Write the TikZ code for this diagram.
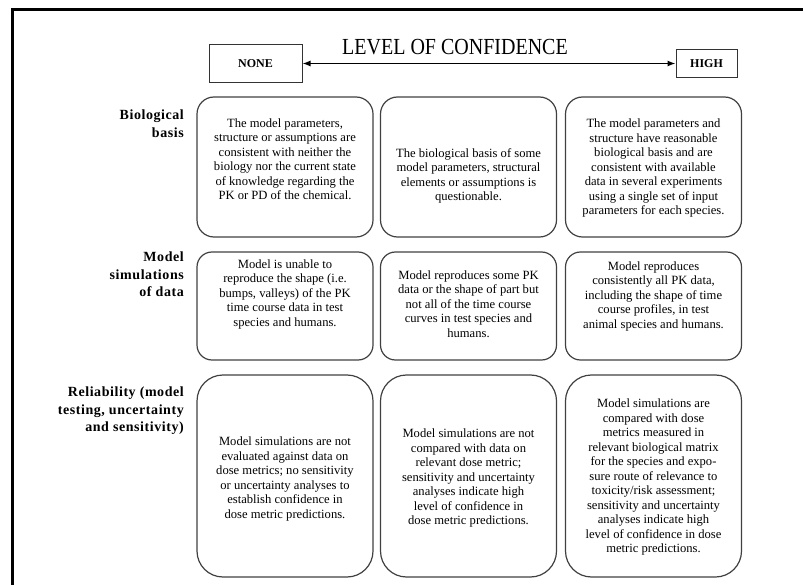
\documentclass[tikz,border=0pt]{standalone}
\usepackage{fontspec}
\setmainfont{Liberation Serif}
\newfontfamily\rowfont[LetterSpace=4]{Liberation Serif}
\usetikzlibrary{arrows.meta}

\begin{document}
\begin{tikzpicture}[x=1pt,y=-1pt]
  \tikzset{cell/.style = {
  shape = rectangle,
  draw = black!75,
  line width = 1.2pt,
  minimum width = 176pt,
  inner sep = 0pt}}
  \tikzset{celltext/.style = {
  align = center,
  inner sep = 0pt,
  font = \fontsize{12.6}{14.5}\selectfont}}
  \tikzset{rowlabel/.style = {
  anchor = north east,
  align = right,
  inner sep = 0pt,
  font = \rowfont\bfseries\fontsize{14}{17.5}\selectfont}}
  \tikzset{endbox/.style = {
  draw = black!80,
  line width = 1pt,
  inner sep = 0pt,
  font = \bfseries\fontsize{12}{14}\selectfont}}
  \useasboundingbox (0,0) rectangle (803,585);
  \draw[line width=3pt] (12,585) -- (12,9.5) -- (803,9.5);
  % scale at the top
  \node (title) at (455,47) {\fontsize{20}{24}\selectfont\scalebox{1}[1.15]{LEVEL OF CONFIDENCE}};
  \node[endbox, minimum width=93pt, minimum height=38pt] (none) at (255.5,63.5) {NONE};
  \node[endbox, minimum width=61pt, minimum height=28pt] (high) at (706.5,63.5) {HIGH};
  \draw[line width=1.2pt, {Latex[length=8pt,width=6pt]}-{Latex[length=8pt,width=6pt]}] (none) -- (high);
  % row labels
  \node[rowlabel] (lbio) at (184,110) {Biological\\basis};
  \node[rowlabel] (lsim) at (184,252) {Model\\simulations\\of data};
  \node[rowlabel] (lrel) at (184,387) {Reliability (model\\testing, uncertainty\\and sensitivity)};
  % biological basis
  \node[cell, minimum height=140pt, rounded corners=17pt] (bio1) at (285,167) {};
  \node[cell, minimum height=140pt, rounded corners=17pt] (bio2) at (468.5,167) {};
  \node[cell, minimum height=140pt, rounded corners=17pt] (bio3) at (653.5,167) {};
  \node[celltext] (tbio1) at (285,159) {The model parameters,\\structure or assumptions are\\consistent with neither the\\biology nor the current state\\of knowledge regarding the\\PK or PD of the chemical.};
  \node[celltext] (tbio2) at (468.5,176) {The biological basis of some\\model parameters, structural\\elements or assumptions is\\questionable.};
  \node[celltext] (tbio3) at (653.5,168) {The model parameters and\\structure have reasonable\\biological basis and are\\consistent with available\\data in several experiments\\using a single set of input\\parameters for each species.};
  % model simulations of data
  \node[cell, minimum height=108pt, rounded corners=15pt] (sim1) at (285,306) {};
  \node[cell, minimum height=108pt, rounded corners=15pt] (sim2) at (468.5,306) {};
  \node[cell, minimum height=108pt, rounded corners=15pt] (sim3) at (653.5,306) {};
  \node[celltext] (tsim1) at (285,294) {Model is unable to\\reproduce the shape (i.e.\\bumps, valleys) of the PK\\time course data in test\\species and humans.};
  \node[celltext] (tsim2) at (468.5,304) {Model reproduces some PK\\data or the shape of part but\\not all of the time course\\curves in test species and\\humans.};
  \node[celltext] (tsim3) at (653.5,296) {Model reproduces\\consistently all PK data,\\including the shape of time\\course profiles, in test\\animal species and humans.};
  % reliability
  \node[cell, minimum height=202pt, rounded corners=26pt] (rel1) at (285,476) {};
  \node[cell, minimum height=202pt, rounded corners=26pt] (rel2) at (468.5,476) {};
  \node[cell, minimum height=202pt, rounded corners=26pt] (rel3) at (653.5,476) {};
  \node[celltext] (trel1) at (285,479) {Model simulations are not\\evaluated against data on\\dose metrics; no sensitivity\\or uncertainty analyses to\\establish confidence in\\dose metric predictions.};
  \node[celltext] (trel2) at (468.5,478) {Model simulations are not\\compared with data on\\relevant dose metric;\\sensitivity and uncertainty\\analyses indicate high\\level of confidence in\\dose metric predictions.};
  \node[celltext] (trel3) at (653.5,477) {Model simulations are\\compared with dose\\metrics measured in\\relevant biological matrix\\for the species and expo-\\sure route of relevance to\\toxicity/risk assessment;\\sensitivity and uncertainty\\analyses indicate high\\level of confidence in dose\\metric predictions.};
\end{tikzpicture}
\end{document}
